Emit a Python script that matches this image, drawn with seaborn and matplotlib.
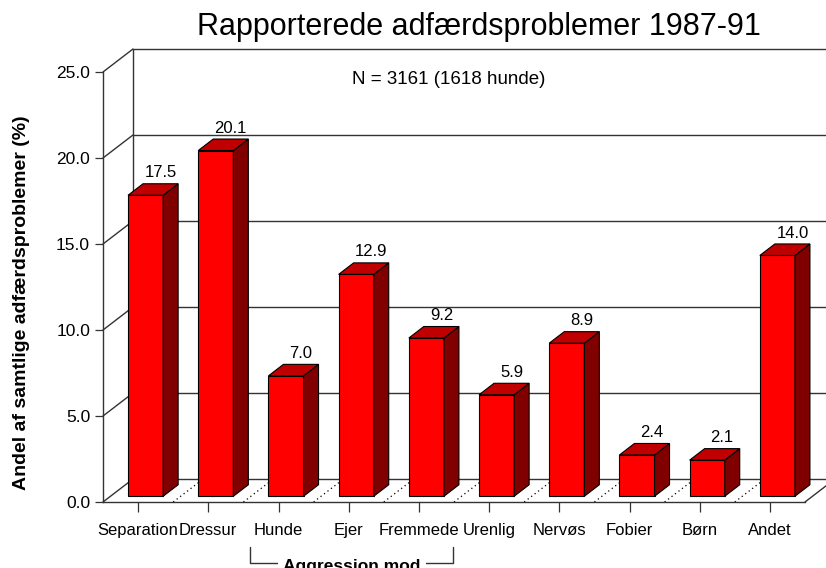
import matplotlib
matplotlib.use('Agg')
import matplotlib.pyplot as plt
import matplotlib.transforms as mtransforms
from matplotlib.patches import Polygon
import seaborn as sns

categories = ['Separation', 'Dressur', 'Hunde', 'Ejer', 'Fremmede',
              'Urenlig', 'Nervøs', 'Fobier', 'Børn', 'Andet']
values = [17.5, 20.1, 7.0, 12.9, 9.2, 5.9, 8.9, 2.4, 2.1, 14.0]
y_ticks = [0, 5, 10, 15, 20, 25]
group_members = ['Hunde', 'Ejer', 'Fremmede']
group_label = 'Aggression mod'

title = 'Rapporterede adfærdsproblemer 1987-91'
note = 'N = 3161 (1618 hunde)'
ylabel = 'Andel af samtlige adfærdsproblemer (%)'

FRONT = '#ff0000'
SIDE = '#800000'
TOP = '#c00000'
LINE = '#333333'

# depth of the pseudo-3D box in data units (right / up)
DX, DY = 0.427, 1.337
BAR_W = 0.5

sns.set_theme(style='white')
plt.rcParams['font.family'] = ['Liberation Sans', 'DejaVu Sans']
plt.rcParams['text.color'] = 'black'

fig = plt.figure(figsize=(8.26, 5.68), dpi=100)
fig.patch.set_facecolor('white')
ax = fig.add_axes([103 / 826, 66 / 568, 702 / 826, 430 / 568])
ax.set_facecolor('none')
n = len(categories)
ax.set_xlim(-0.5, n - 0.5)
ax.set_ylim(0, 25)
x0, x1 = -0.5, n - 0.5

# back wall grid + left wall diagonals
for t in y_ticks:
    ax.plot([x0 + DX, x1 + DX], [t + DY, t + DY], color=LINE, lw=1, clip_on=False, zorder=1)
    ax.plot([x0, x0 + DX], [t, t + DY], color=LINE, lw=1, clip_on=False, zorder=1)
ax.plot([x0 + DX, x0 + DX], [DY, y_ticks[-1] + DY], color=LINE, lw=1, clip_on=False, zorder=1)
ax.plot([x1, x1 + DX], [0, DY], color=LINE, lw=1, clip_on=False, zorder=1)

# dotted floor separators
for i in range(n - 1):
    ax.plot([i + 0.5, i + 0.5 + DX], [0, DY], color='black', lw=0.9,
            ls=(0, (1, 2.5)), clip_on=False, zorder=1)

# front faces
sns.barplot(x=categories, y=values, color=FRONT, saturation=1, width=BAR_W,
            edgecolor='black', linewidth=0.8, errorbar=None, ax=ax, zorder=3)

shift = mtransforms.Affine2D().translate(DX * 0.25, DY * 0.25)
hx, hy = DX * 0.5, DY * 0.5
for p, v in zip(ax.patches, values):
    p.set_transform(shift + ax.transData)
    bx = p.get_x() + DX * 0.25
    bw = p.get_width()
    by = DY * 0.25
    top = v + by
    side = Polygon([(bx + bw, by), (bx + bw + hx, by + hy), (bx + bw + hx, top + hy), (bx + bw, top)],
                   closed=True, fc=SIDE, ec='black', lw=0.8, zorder=3, clip_on=False)
    lid = Polygon([(bx, top), (bx + bw, top), (bx + bw + hx, top + hy), (bx + hx, top + hy)],
                  closed=True, fc=TOP, ec='black', lw=0.8, zorder=3, clip_on=False)
    ax.add_patch(side)
    ax.add_patch(lid)
    ax.text(bx + bw / 2 + hx, top + hy + 0.2, f'{v:.1f}', ha='center', va='bottom',
            fontsize=12, color='black', zorder=4)

for s in ['top', 'right']:
    ax.spines[s].set_visible(False)
for s in ['left', 'bottom']:
    ax.spines[s].set_color(LINE)
    ax.spines[s].set_linewidth(1)

ax.set_yticks(y_ticks)
ax.set_yticklabels([f'{t:.1f}' for t in y_ticks])
ax.tick_params(axis='y', left=True, length=5.8, width=0.9, color=LINE, pad=3.5,
               labelsize=12.5, labelcolor='black')
ax.tick_params(axis='x', bottom=True, length=7.2, width=0.9, color=LINE, pad=8,
               labelsize=12, labelcolor='black')
ax.set_xlabel('')
ax.set_ylabel('')

# bracket under the aggression group
gi = [categories.index(c) for c in group_members]
bl, br = gi[0] - 0.4, gi[-1] + 0.49
ax.plot([bl, bl, br, br], [-2.6, -3.55, -3.55, -2.6], color=LINE, lw=1, clip_on=False)
ax.text((bl + br) / 2, -3.75, group_label, ha='center', va='center', fontsize=12.5,
        fontweight='bold', color='black', bbox=dict(fc='white', ec='none', pad=4))

fig.text(479 / 826, 1 - 27 / 568, title, ha='center', va='center', fontsize=22, color='black')
fig.text(449 / 826, 1 - 80 / 568, note, ha='center', va='center', fontsize=13.5, color='black')
fig.text(22 / 826, 1 - 303 / 568, ylabel, ha='center', va='center', rotation=90,
         fontsize=14, fontweight='bold', color='black')

fig.savefig('out.png', dpi=100)
